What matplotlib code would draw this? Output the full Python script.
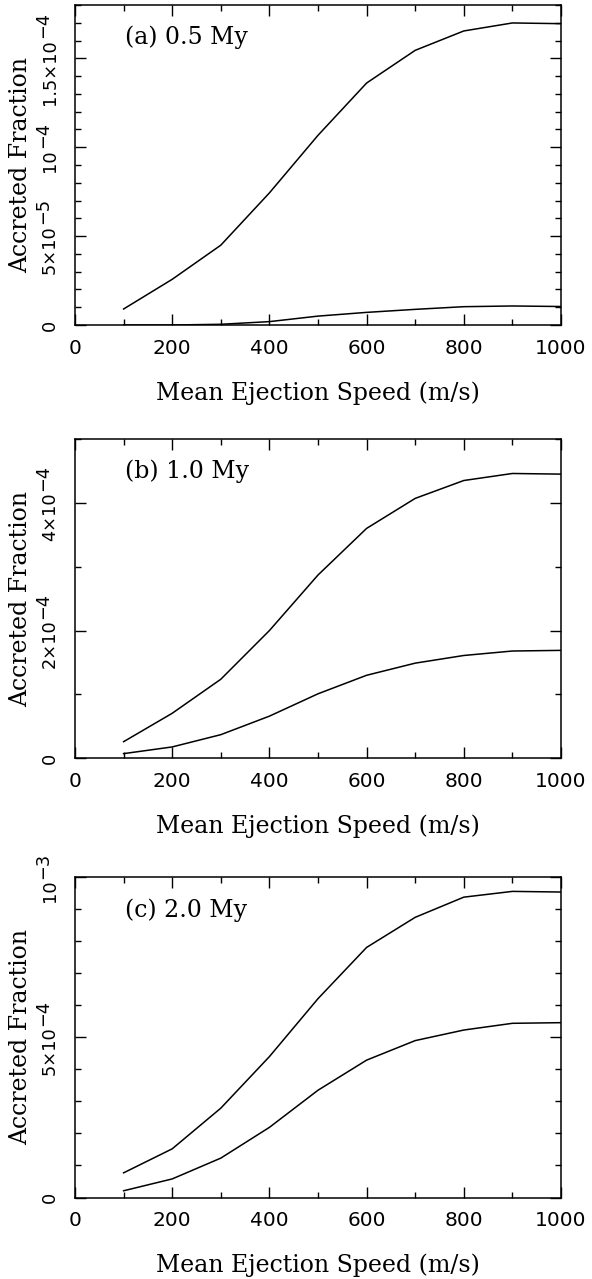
import numpy as np
import matplotlib.pyplot as plt
from matplotlib.ticker import MultipleLocator, FixedLocator, NullFormatter
from matplotlib.transforms import IdentityTransform

speed = [100, 200, 300, 400, 500, 600, 700, 800, 900, 1000]

# accreted fraction, upper and lower curve for each age
frac_05_hi = [9.0e-6, 2.57e-5, 4.49e-5, 7.43e-5, 1.067e-4, 1.361e-4, 1.545e-4, 1.654e-4, 1.699e-4, 1.695e-4]
frac_05_lo = [0.0, 0.0, 4.0e-7, 1.9e-6, 5.0e-6, 7.1e-6, 8.8e-6, 1.03e-5, 1.07e-5, 1.04e-5]
frac_10_hi = [2.6e-5, 7.05e-5, 1.238e-4, 2.0e-4, 2.87e-4, 3.60e-4, 4.07e-4, 4.35e-4, 4.46e-4, 4.45e-4]
frac_10_lo = [7.3e-6, 1.78e-5, 3.7e-5, 6.6e-5, 1.01e-4, 1.30e-4, 1.49e-4, 1.61e-4, 1.68e-4, 1.69e-4]
frac_20_hi = [7.7e-5, 1.52e-4, 2.79e-4, 4.40e-4, 6.21e-4, 7.81e-4, 8.75e-4, 9.38e-4, 9.56e-4, 9.54e-4]
frac_20_lo = [2.1e-5, 5.8e-5, 1.23e-4, 2.19e-4, 3.35e-4, 4.29e-4, 4.90e-4, 5.23e-4, 5.44e-4, 5.46e-4]

titles = ['(a) 0.5 My', '(b) 1.0 My', '(c) 2.0 My']
ytops = [1.8e-4, 5e-4, 1e-3]
yminor = [1e-5, 1e-4, 1e-4]
yticks = [[0, 5e-5, 1e-4, 1.5e-4], [0, 2e-4, 4e-4], [0, 5e-4, 1e-3]]
# tick label body and its exponent (drawn full size, raised)
ybase = [['0', '5\u00d710', '10', '1.5\u00d710'],
         ['0', '2\u00d710', '4\u00d710'],
         ['0', '5\u00d710', '10']]
yexp = [['', '\u22125', '\u22124', '\u22124'],
        ['', '\u22124', '\u22124'],
        ['', '\u22124', '\u22123']]
curves = [(frac_05_hi, frac_05_lo), (frac_10_hi, frac_10_lo), (frac_20_hi, frac_20_lo)]

fig = plt.figure(figsize=(5.92, 12.79), dpi=100)
W, H = 592.0, 1279.0
left, right = 75, 561
panels = [(5, 325), (439, 758.3), (877.3, 1197.5)]

serif = 'DejaVu Serif'
xtick_fs = 14.5
ytick_fs = 12.8

axes = []
for i in range(3):
    top, bot = panels[i]
    ax = fig.add_axes([left / W, 1 - bot / H, (right - left) / W, (bot - top) / H])
    hi, lo = curves[i]
    ax.plot(speed, hi, color='black', lw=1.1)
    ax.plot(speed, lo, color='black', lw=1.1)

    ax.set_xlim(0, 1000)
    ax.set_ylim(0, ytops[i])
    ax.xaxis.set_major_locator(MultipleLocator(200))
    ax.xaxis.set_minor_locator(MultipleLocator(100))
    ax.yaxis.set_major_locator(FixedLocator(yticks[i]))
    ax.yaxis.set_major_formatter(NullFormatter())
    ax.yaxis.set_minor_locator(MultipleLocator(yminor[i]))

    ax.tick_params(which='both', direction='in', top=True, right=True, width=1.0)
    ax.tick_params(which='major', length=7.8)
    ax.tick_params(which='minor', length=4.0)
    ax.tick_params(axis='x', which='major', pad=10, labelsize=xtick_fs)
    for sp in ax.spines.values():
        sp.set_linewidth(1.1)

    ax.set_xlabel('Mean Ejection Speed (m/s)', family=serif, fontsize=17)
    ax.xaxis.set_label_coords(0.5, -0.176)
    ax.set_ylabel('Accreted Fraction', family=serif, fontsize=17)
    ax.yaxis.set_label_coords(-0.088, 0.5)

    ax.text(0.103, 0.898, titles[i], transform=ax.transAxes, family=serif,
            fontsize=17, ha='left', va='center')
    axes.append(ax)

# rotated y tick labels: body + full-size raised exponent, centred as a whole
renderer = fig.canvas.get_renderer()
for i, ax in enumerate(axes):
    x_axis = ax.transAxes.transform((0, 0))[0]
    x_body = x_axis - 16
    x_exp = x_body - 7
    for val, body, ex in zip(yticks[i], ybase[i], yexp[i]):
        y_tick = ax.transData.transform((0, val))[1]
        t = fig.text(x_body, y_tick, body, transform=IdentityTransform(), rotation=90,
                     ha='right', va='center', fontsize=ytick_fs)
        if not ex:
            continue
        s = fig.text(x_exp, y_tick, ex, transform=IdentityTransform(), rotation=90,
                     ha='right', va='center', fontsize=ytick_fs)
        hb = t.get_window_extent(renderer).height
        hs = s.get_window_extent(renderer).height
        total = hb + 1 + hs
        t.set_y(y_tick - total / 2 + hb / 2)
        s.set_y(y_tick + total / 2 - hs / 2)

fig.savefig('out.png', dpi=100)
